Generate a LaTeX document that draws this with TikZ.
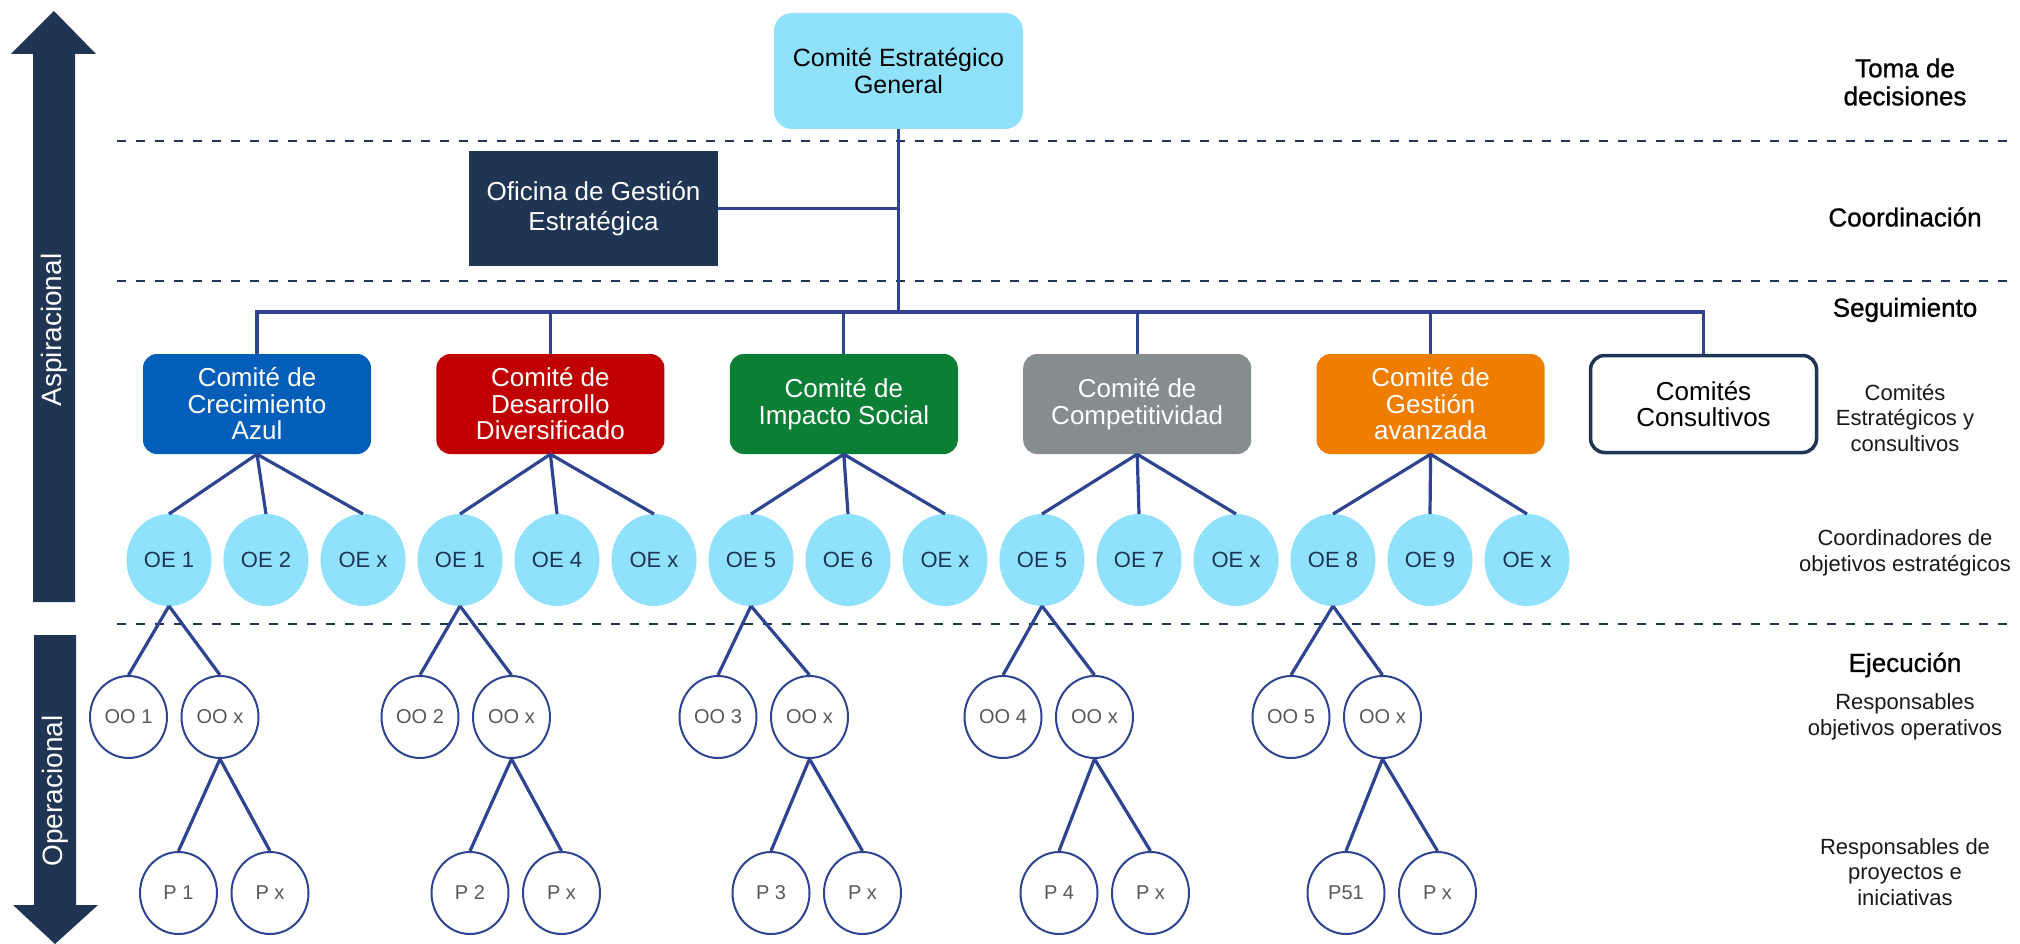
\documentclass[tikz,border=0pt]{standalone}
\usepackage{fontspec}
\setmainfont{Liberation Sans}
\newfontfamily\headfont{Liberation Sans}[FakeBold=1]
\usepackage{xcolor}
\usepackage{tikz}
\usetikzlibrary{shapes.geometric, positioning}

\definecolor{navy}{HTML}{1F3553}
\definecolor{linkblue}{HTML}{2E4491}
\definecolor{celeste}{HTML}{8FE1FC}
\definecolor{azul}{HTML}{035EB9}
\definecolor{rojo}{HTML}{C00000}
\definecolor{verde}{HTML}{0B7F35}
\definecolor{gris}{HTML}{858D8F}
\definecolor{naranja}{HTML}{EE7D00}
\definecolor{textgris}{HTML}{595959}

\begin{document}
\begin{tikzpicture}[x=1pt, y=-1pt,
    comite/.style={rectangle, rounded corners=14pt, minimum width=228pt, minimum height=100pt, align=center, text=white, inner sep=2pt, font=\fontsize{26}{26.5}\selectfont},
    oe/.style={ellipse, fill=celeste, minimum width=85pt, minimum height=92pt, inner sep=0pt, outer sep=0pt, text=navy, font=\fontsize{22}{24}\selectfont},
    oo/.style={ellipse, draw=linkblue, line width=2pt, fill=white, minimum width=77pt, minimum height=82pt, inner sep=0pt, text=textgris, font=\fontsize{20}{22}\selectfont},
    link/.style={draw=linkblue, line width=3.2pt},
    nivel/.style={draw=navy, line width=2.7pt, dash pattern=on 9pt off 10pt},
    head/.style={align=center, font=\headfont\fontsize{26}{28}\selectfont},
    note/.style={align=center, text=black!90, font=\fontsize{22}{25.5}\selectfont}]

    \useasboundingbox (0,0) rectangle (2020,944);

    % big arrows on the left
    \fill[navy] (33,602) -- (33,54) -- (11,54) -- (54,11) -- (96,54) -- (75,54) -- (75,602) -- cycle;
    \fill[navy] (34,635) -- (76,635) -- (76,905) -- (98,905) -- (55,944) -- (13,905) -- (34,905) -- cycle;
    \node (Aspiracional) [rotate=90, text=white, font=\fontsize{28}{30}\selectfont] at (54,330) {Aspiracional};
    \node (Operacional) [rotate=90, text=white, font=\fontsize{28}{30}\selectfont] at (55,791) {Operacional};

    \draw[nivel] (117,141) -- (2015,141);
    \draw[nivel] (117,281) -- (2015,281);
    \draw[nivel] (117,624) -- (2015,624);

    \node (General) [comite, fill=celeste, text=black, minimum width=249pt, minimum height=116pt, rounded corners=18pt, font=\fontsize{25}{26.5}\selectfont] at (898.5,71) {Comité Estratégico\\General};
    \node (Oficina) [rectangle, fill=navy, text=white, minimum width=249pt, minimum height=115pt, align=center, font=\fontsize{26}{30}\selectfont] at (593.5,208.5) {Oficina de Gestión\\Estratégica};
    \coordinate (Bus) at (898.5,312);

    \node (Crecimiento) [comite, fill=azul] at (257,404) {Comité de\\Crecimiento\\Azul};
    \node (Desarrollo) [comite, fill=rojo, right=65pt of Crecimiento] {Comité de\\Desarrollo\\Diversificado};
    \node (Impacto) [comite, fill=verde, right=65pt of Desarrollo] {Comité de\\Impacto Social};
    \node (Competitividad) [comite, fill=gris, right=65pt of Impacto] {Comité de\\Competitividad};
    \node (Gestion) [comite, fill=naranja, right=65pt of Competitividad] {Comité de\\Gestión\\avanzada};
    \node (Consultivos) [comite, fill=white, draw=navy, line width=3.5pt, text=black, minimum width=226pt, minimum height=97pt, right=44pt of Gestion] {Comités\\Consultivos};

    \node (OE11) [oe] at (169,560) {OE 1};
    \node (OE12) [oe, right=12pt of OE11] {OE 2};
    \node (OE13) [oe, right=12pt of OE12] {OE x};
    \node (OE21) [oe, right=12pt of OE13] {OE 1};
    \node (OE22) [oe, right=12pt of OE21] {OE 4};
    \node (OE23) [oe, right=12pt of OE22] {OE x};
    \node (OE31) [oe, right=12pt of OE23] {OE 5};
    \node (OE32) [oe, right=12pt of OE31] {OE 6};
    \node (OE33) [oe, right=12pt of OE32] {OE x};
    \node (OE41) [oe, right=12pt of OE33] {OE 5};
    \node (OE42) [oe, right=12pt of OE41] {OE 7};
    \node (OE43) [oe, right=12pt of OE42] {OE x};
    \node (OE51) [oe, right=12pt of OE43] {OE 8};
    \node (OE52) [oe, right=12pt of OE51] {OE 9};
    \node (OE53) [oe, right=12pt of OE52] {OE x};

    \node (OO1a) [oo] at (128.5,717) {OO 1};
    \node (OO1b) [oo, right=12.5pt of OO1a] {OO x};
    \node (OO2a) [oo] at (420,717) {OO 2};
    \node (OO2b) [oo, right=12.5pt of OO2a] {OO x};
    \node (OO3a) [oo] at (718,717) {OO 3};
    \node (OO3b) [oo, right=12.5pt of OO3a] {OO x};
    \node (OO4a) [oo] at (1003,717) {OO 4};
    \node (OO4b) [oo, right=12.5pt of OO4a] {OO x};
    \node (OO5a) [oo] at (1291,717) {OO 5};
    \node (OO5b) [oo, right=12.5pt of OO5a] {OO x};

    \node (P1a) [oo] at (178.5,893) {P 1};
    \node (P1b) [oo, right=12.5pt of P1a] {P x};
    \node (P2a) [oo] at (470,893) {P 2};
    \node (P2b) [oo, right=12.5pt of P2a] {P x};
    \node (P3a) [oo] at (771,893) {P 3};
    \node (P3b) [oo, right=12.5pt of P3a] {P x};
    \node (P4a) [oo] at (1059,893) {P 4};
    \node (P4b) [oo, right=12.5pt of P4a] {P x};
    \node (P5a) [oo] at (1346,893) {P51};
    \node (P5b) [oo, right=12.5pt of P5a] {P x};

    \draw[link] (General.south) -- (Bus);
    \draw[link] (Oficina.east) -- (Oficina.east -| Bus);
    \draw[link] (Crecimiento.north) |- (Bus) -| (Consultivos.north);
    \draw[link] (Desarrollo.north) -- (Desarrollo.north |- Bus);
    \draw[link] (Impacto.north) -- (Impacto.north |- Bus);
    \draw[link] (Competitividad.north) -- (Competitividad.north |- Bus);
    \draw[link] (Gestion.north) -- (Gestion.north |- Bus);

    \draw[link] (Crecimiento.south) -- (OE11.north) (Crecimiento.south) -- (OE12.north) (Crecimiento.south) -- (OE13.north);
    \draw[link] (Desarrollo.south) -- (OE21.north) (Desarrollo.south) -- (OE22.north) (Desarrollo.south) -- (OE23.north);
    \draw[link] (Impacto.south) -- (OE31.north) (Impacto.south) -- (OE32.north) (Impacto.south) -- (OE33.north);
    \draw[link] (Competitividad.south) -- (OE41.north) (Competitividad.south) -- (OE42.north) (Competitividad.south) -- (OE43.north);
    \draw[link] (Gestion.south) -- (OE51.north) (Gestion.south) -- (OE52.north) (Gestion.south) -- (OE53.north);

    \draw[link] (OE11.south) -- (OO1a.north) (OE11.south) -- (OO1b.north);
    \draw[link] (OE21.south) -- (OO2a.north) (OE21.south) -- (OO2b.north);
    \draw[link] (OE31.south) -- (OO3a.north) (OE31.south) -- (OO3b.north);
    \draw[link] (OE41.south) -- (OO4a.north) (OE41.south) -- (OO4b.north);
    \draw[link] (OE51.south) -- (OO5a.north) (OE51.south) -- (OO5b.north);

    \draw[link] (OO1b.south) -- (P1a.north) (OO1b.south) -- (P1b.north);
    \draw[link] (OO2b.south) -- (P2a.north) (OO2b.south) -- (P2b.north);
    \draw[link] (OO3b.south) -- (P3a.north) (OO3b.south) -- (P3b.north);
    \draw[link] (OO4b.south) -- (P4a.north) (OO4b.south) -- (P4b.north);
    \draw[link] (OO5b.south) -- (P5a.north) (OO5b.south) -- (P5b.north);

    \node (TomaDecisiones) [head] at (1905,82) {Toma de\\decisiones};
    \node (Coordinacion) [head] at (1905,217) {Coordinación};
    \node (Seguimiento) [head] at (1905,310) {Seguimiento};
    \node (ComitesLabel) [note] at (1905,418) {Comités\\Estratégicos y\\consultivos};
    \node (CoordinadoresLabel) [note] at (1905,553) {Coordinadores de\\objetivos estratégicos};
    \node (Ejecucion) [head] at (1905,665) {Ejecución};
    \node (ResponsablesOO) [note] at (1905,717) {Responsables\\objetivos operativos};
    \node (ResponsablesP) [note] at (1905,872) {Responsables de\\proyectos e\\iniciativas};
\end{tikzpicture}
\end{document}
